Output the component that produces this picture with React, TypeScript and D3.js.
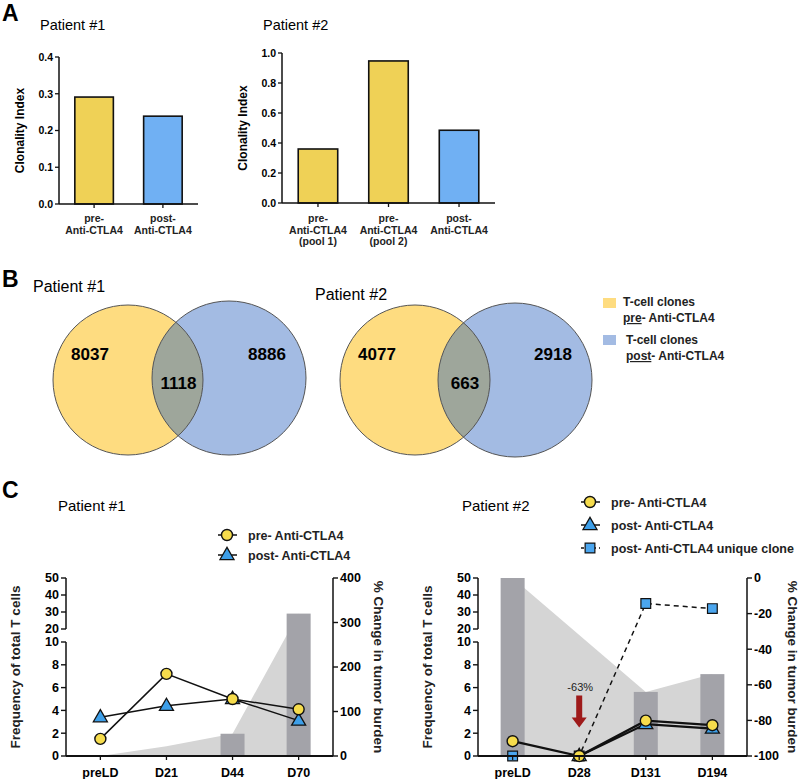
import * as d3 from 'd3';

const FONT = '"Liberation Sans", Arial, Helvetica, sans-serif';

// ---- Panel A data ----
const aP1Cats = [['pre-', 'Anti-CTLA4'], ['post-', 'Anti-CTLA4']];
const aP1Vals = [0.291, 0.239];
const aP1Ticks = [0, 0.1, 0.2, 0.3, 0.4];
const aP2Cats = [['pre-', 'Anti-CTLA4', '(pool 1)'], ['pre-', 'Anti-CTLA4', '(pool 2)'], ['post-', 'Anti-CTLA4']];
const aP2Vals = [0.36, 0.947, 0.485];
const aP2Ticks = [0, 0.2, 0.4, 0.6, 0.8, 1.0];

// ---- Panel B data ----
const vennP1 = [8037, 1118, 8886];
const vennP2 = [4077, 663, 2918];

// ---- Panel C data ----
const cP1Days = ['preLD', 'D21', 'D44', 'D70'];
const cP1Pre = [1.5, 7.2, 5.0, 4.1];
const cP1Post = [3.4, 4.4, 5.0, 3.1];
const cP1Bars = [0, 0, 50, 320];
const cP1Area = [0, 22, 50, 320];
const cP1RightTicks = [0, 100, 200, 300, 400];

const cP2Days = ['preLD', 'D28', 'D131', 'D194'];
const cP2Pre = [1.3, 0, 3.1, 2.7];
const cP2Post: (number | null)[] = [null, 0, 2.8, 2.4];
const cP2Unique = [0, 0, 35, 32];
const cP2Bars = [0, -100, -64, -54];
const cP2Area: (number | null)[] = [0, null, -64, -54];
const cP2RightTicks = [0, -20, -40, -60, -80, -100];

const lowTicks = [0, 2, 4, 6, 8, 10];
const highTicks = [20, 30, 40, 50];

const YELLOW = '#EFD156';
const BLUE = '#70B0F3';
const V_YELLOW = '#FEDC80';
const V_BLUE = '#A3BBE3';
const V_OVER = '#9EA69B';
const BAR_GRAY = '#A3A3A9';
const AREA_GRAY = '#D5D5D5';
const MK_YELLOW = '#F6DC4C';
const MK_BLUE = '#3D9FE9';

function BarPanel({ x0, x1, top, bottom, max, ticks, cats, vals, colors, title, titleX }: any) {
  const x = d3.scaleBand<number>().domain(vals.map((_: number, i: number) => i)).range([x0, x1]).paddingInner(0.44).paddingOuter(0.23);
  const y = d3.scaleLinear().domain([0, max]).range([bottom, top]);
  return (
    <g fontFamily={FONT}>
      <text x={titleX} y={30} fontSize={14.5}>{title}</text>
      {vals.map((v: number, i: number) => (
        <rect key={i} x={x(i)} y={y(v)} width={x.bandwidth()} height={y(0) - y(v)} fill={colors[i]} stroke="#111" strokeWidth={1.6} />
      ))}
      <line x1={x0} x2={x0} y1={top} y2={bottom} stroke="#111" strokeWidth={1.5} />
      <line x1={x0} x2={x1} y1={bottom} y2={bottom} stroke="#111" strokeWidth={1.5} />
      {ticks.map((t: number) => (
        <g key={t}>
          <line x1={x0 - 4} x2={x0} y1={y(t)} y2={y(t)} stroke="#111" strokeWidth={1.3} />
          <text x={x0 - 6} y={y(t) + 3.8} fontSize={10.5} fontWeight="bold" textAnchor="end">{t.toFixed(1)}</text>
        </g>
      ))}
      {cats.map((lines: string[], i: number) => {
        const cx = (x(i) as number) + x.bandwidth() / 2;
        return (
          <g key={i}>
            <line x1={cx} x2={cx} y1={bottom} y2={bottom + 4} stroke="#111" strokeWidth={1.3} />
            {lines.map((s, j) => (
              <text key={j} x={cx} y={222 + j * 11.5} fontSize={10.5} fontWeight="bold" textAnchor="middle" fill="#222">{s}</text>
            ))}
          </g>
        );
      })}
      <text transform={`translate(${x0 - 35},${(top + bottom) / 2}) rotate(-90)`} fontSize={12} fontWeight="bold" textAnchor="middle">Clonality Index</text>
    </g>
  );
}

function Venn({ id, a, b, vals, title, titleX, titleY }: any) {
  return (
    <g fontFamily={FONT}>
      <defs>
        <clipPath id={id}><circle cx={b.cx} cy={b.cy} r={b.r} /></clipPath>
      </defs>
      <text x={titleX} y={titleY} fontSize={16}>{title}</text>
      <circle cx={a.cx} cy={a.cy} r={a.r} fill={V_YELLOW} />
      <circle cx={b.cx} cy={b.cy} r={b.r} fill={V_BLUE} />
      <circle cx={a.cx} cy={a.cy} r={a.r} fill={V_OVER} clipPath={`url(#${id})`} />
      <circle cx={a.cx} cy={a.cy} r={a.r} fill="none" stroke="#555" strokeWidth={1} />
      <circle cx={b.cx} cy={b.cy} r={b.r} fill="none" stroke="#555" strokeWidth={1} />
      <text x={a.cx - 38} y={360} fontSize={17} fontWeight="bold" textAnchor="middle">{vals[0]}</text>
      <text x={(a.cx + a.r + b.cx - b.r) / 2 + 1} y={389} fontSize={17} fontWeight="bold" textAnchor="middle">{vals[1]}</text>
      <text x={b.cx + 38} y={360} fontSize={17} fontWeight="bold" textAnchor="middle">{vals[2]}</text>
    </g>
  );
}

function Marker({ kind, x, y }: any) {
  if (kind === 'circle') return <circle cx={x} cy={y} r={5.5} fill={MK_YELLOW} stroke="#111" strokeWidth={1.4} />;
  if (kind === 'tri') {
    const p = d3.symbol().type(d3.symbolTriangle).size(85)() as string;
    return <path d={p} transform={`translate(${x},${y + 0.5})`} fill={MK_BLUE} stroke="#111" strokeWidth={1.3} />;
  }
  const p = d3.symbol().type(d3.symbolSquare).size(95)() as string;
  return <path d={p} transform={`translate(${x},${y})`} fill="#4BA6EF" stroke="#111" strokeWidth={1.2} />;
}

function LinePanel({ xL, xR, days, series, bars, area, rDomain, rTicks, arrow }: any) {
  const x = d3.scalePoint<string>().domain(days).range([xL, xR]).padding(0.52);
  const lo = d3.scaleLinear().domain([0, 10]).range([756, 642]);
  const hi = d3.scaleLinear().domain([20, 50]).range([629, 578]);
  const y = (v: number) => (v <= 10 ? lo(v) : hi(v));
  const yr = d3.scaleLinear().domain(rDomain).range([756, 578]);
  const bw = 24;
  const areaGen = d3.area<any>().defined((d) => d.v != null).x((d) => x(d.day) as number).y0(yr(rDomain[0])).y1((d) => yr(d.v));
  const areaData = days.map((day: string, i: number) => ({ day, v: area[i] }));
  return (
    <g fontFamily={FONT}>
      <path d={areaGen(areaData.filter((d: any) => d.v != null)) as string} fill={AREA_GRAY} />
      {bars.map((v: number, i: number) => (
        <rect key={i} x={(x(days[i]) as number) - bw / 2} y={yr(v)} width={bw} height={yr(rDomain[0]) - yr(v)} fill={BAR_GRAY} />
      ))}
      {series.map((s: any, k: number) => {
        const pts = days.map((day: string, i: number) => ({ day, v: s.vals[i] })).filter((d: any) => d.v != null);
        const line = d3.line<any>().x((d) => x(d.day) as number).y((d) => y(d.v));
        return <path key={k} d={line(pts) as string} fill="none" stroke="#111" strokeWidth={s.width || 1.5} strokeDasharray={s.dash || null} />;
      })}
      {series.map((s: any, k: number) => (
        <g key={k}>
          {days.map((day: string, i: number) => (s.vals[i] == null ? null : <Marker key={i} kind={s.kind} x={x(day)} y={y(s.vals[i])} />))}
        </g>
      ))}
      {arrow && (() => {
        const ax = x(arrow.day) as number;
        const t0 = lo(arrow.from), t1 = lo(arrow.to);
        return (
          <g>
            <text x={ax + 1} y={t0 - 5} fontSize={11} textAnchor="middle" fill="#222">{arrow.label}</text>
            <polygon points={`${ax - 3},${t0} ${ax + 3},${t0} ${ax + 3},${t1 - 10} ${ax + 7.5},${t1 - 10} ${ax},${t1} ${ax - 7.5},${t1 - 10} ${ax - 3},${t1 - 10}`} fill="#9E1A1A" />
          </g>
        );
      })()}
      {/* left broken axis */}
      <line x1={xL} x2={xL} y1={lo(0)} y2={lo(10)} stroke="#111" strokeWidth={1.5} />
      <line x1={xL} x2={xL} y1={hi(20)} y2={hi(50)} stroke="#111" strokeWidth={1.5} />
      {[...lowTicks.map((t) => [t, lo(t)]), ...highTicks.map((t) => [t, hi(t)])].map(([t, py]) => (
        <g key={t}>
          <line x1={xL - 5} x2={xL} y1={py} y2={py} stroke="#111" strokeWidth={1.4} />
          <text x={xL - 7} y={py + 4.3} fontSize={12.5} fontWeight="bold" textAnchor="end">{t}</text>
        </g>
      ))}
      {/* right axis */}
      <line x1={xR} x2={xR} y1={578} y2={756} stroke="#111" strokeWidth={1.5} />
      {rTicks.map((t: number) => (
        <g key={t}>
          <line x1={xR} x2={xR + 5} y1={yr(t)} y2={yr(t)} stroke="#111" strokeWidth={1.4} />
          <text x={xR + 7} y={yr(t) + 4.3} fontSize={12.5} fontWeight="bold">{t}</text>
        </g>
      ))}
      {/* x axis */}
      <line x1={xL} x2={xR} y1={756} y2={756} stroke="#111" strokeWidth={1.8} />
      {days.map((d: string) => (
        <g key={d}>
          <line x1={x(d)} x2={x(d)} y1={756} y2={760} stroke="#111" strokeWidth={1.3} />
          <text x={x(d)} y={777} fontSize={12.5} fontWeight="bold" textAnchor="middle">{d}</text>
        </g>
      ))}
      <text transform={`translate(${xL - 46},667) rotate(-90)`} fontSize={13.5} fontWeight="bold" textAnchor="middle" fill="#222">Frequency of total T cells</text>
      <text transform={`translate(${xR + 41},667) rotate(90)`} fontSize={13.5} fontWeight="bold" textAnchor="middle" fill="#222">% Change in tumor burden</text>
    </g>
  );
}

function LegendRow({ kind, x, y, label, dash }: any) {
  return (
    <g fontFamily={FONT}>
      <line x1={x - 9} x2={x + 10} y1={y} y2={y} stroke="#111" strokeWidth={1.5} strokeDasharray={dash || null} />
      <Marker kind={kind} x={x} y={y} />
      <text x={x + 21} y={y + 4.5} fontSize={12.5} fontWeight="bold" fill="#222">{label}</text>
    </g>
  );
}

export default function App() {
  return (
    <svg width={800} height={779} viewBox="0 0 800 779" style={{ position: 'absolute', left: 0, top: 0, background: '#fff' }}>
      <rect width={800} height={779} fill="#fff" />
      {/* Panel A */}
      <text x={2} y={21} fontFamily={FONT} fontSize={23} fontWeight="bold">A</text>
      <BarPanel x0={59} x1={198} top={57} bottom={204} max={0.4} ticks={aP1Ticks} cats={aP1Cats} vals={aP1Vals} colors={[YELLOW, BLUE]} title="Patient #1" titleX={40} />
      <BarPanel x0={282} x1={495} top={53} bottom={203} max={1.0} ticks={aP2Ticks} cats={aP2Cats} vals={aP2Vals} colors={[YELLOW, YELLOW, BLUE]} title="Patient #2" titleX={263} />

      {/* Panel B */}
      <text x={2} y={287} fontFamily={FONT} fontSize={23} fontWeight="bold">B</text>
      <Venn id="v1" a={{ cx: 128, cy: 380, r: 75 }} b={{ cx: 229, cy: 378, r: 77 }} vals={vennP1} title="Patient #1" titleX={33} titleY={292} />
      <Venn id="v2" a={{ cx: 415, cy: 380, r: 75 }} b={{ cx: 515, cy: 380, r: 77 }} vals={vennP2} title="Patient #2" titleX={315} titleY={300} />
      <g fontFamily={FONT} fontSize={12} fontWeight="bold" fill="#222">
        <rect x={603} y={298} width={13} height={10} fill={V_YELLOW} />
        <text x={623} y={306}>T-cell clones</text>
        <text x={623} y={322}><tspan textDecoration="underline">pre</tspan>- Anti-CTLA4</text>
        <rect x={603} y={335} width={13} height={10} fill={V_BLUE} />
        <text x={626} y={344}>T-cell clones</text>
        <text x={626} y={360}><tspan textDecoration="underline">post</tspan>- Anti-CTLA4</text>
      </g>

      {/* Panel C */}
      <text x={2} y={498} fontFamily={FONT} fontSize={23} fontWeight="bold">C</text>
      <text x={58} y={511} fontFamily={FONT} fontSize={15}>Patient #1</text>
      <text x={462} y={511} fontFamily={FONT} fontSize={15}>Patient #2</text>
      <LegendRow kind="circle" x={227} y={535} label="pre- Anti-CTLA4" />
      <LegendRow kind="tri" x={227} y={555} label="post- Anti-CTLA4" />
      <LegendRow kind="circle" x={590} y={502} label="pre- Anti-CTLA4" />
      <LegendRow kind="tri" x={590} y={525} label="post- Anti-CTLA4" />
      <LegendRow kind="square" x={590} y={548} label="post- Anti-CTLA4 unique clone" dash="3,3" />

      <LinePanel xL={66} xR={333} days={cP1Days} bars={cP1Bars} area={cP1Area} rDomain={[0, 400]} rTicks={cP1RightTicks}
        series={[{ vals: cP1Post, kind: 'tri' }, { vals: cP1Pre, kind: 'circle' }]} />
      <LinePanel xL={478} xR={747} days={cP2Days} bars={cP2Bars} area={cP2Area} rDomain={[-100, 0]} rTicks={cP2RightTicks}
        arrow={{ day: 'D28', from: 5.3, to: 2.5, label: '-63%' }}
        series={[{ vals: cP2Unique, kind: 'square', dash: '5,4' }, { vals: cP2Post, kind: 'tri', width: 2.2 }, { vals: cP2Pre, kind: 'circle', width: 2.2 }]} />
    </svg>
  );
}
